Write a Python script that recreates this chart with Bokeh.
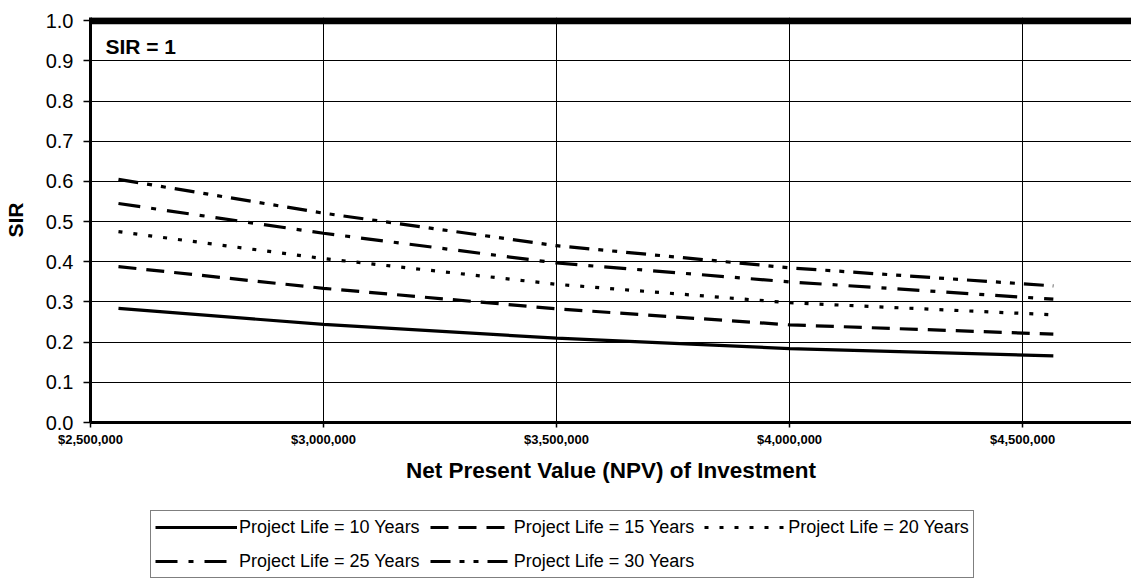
from bokeh.plotting import figure
from bokeh.layouts import column
from bokeh.models import (Range1d, FixedTicker, NumeralTickFormatter, Span, Label,
                          Legend, LegendItem)
from bokeh.embed import file_html
from bokeh.resources import INLINE

# ---- data ----
npv = [2560000, 3000000, 3500000, 4000000, 4566000]
sir_10 = [0.284, 0.244, 0.210, 0.184, 0.166]
sir_15 = [0.388, 0.334, 0.283, 0.243, 0.220]
sir_20 = [0.475, 0.408, 0.344, 0.298, 0.268]
sir_25 = [0.545, 0.471, 0.397, 0.350, 0.307]
sir_30 = [0.605, 0.521, 0.440, 0.385, 0.340]
series_labels = ["Project Life = 10 Years", "Project Life = 15 Years",
                 "Project Life = 20 Years", "Project Life = 25 Years",
                 "Project Life = 30 Years"]
sir_threshold = 1.0
x_ticks = [2500000, 3000000, 3500000, 4000000, 4500000]
y_ticks = [0.0, 0.1, 0.2, 0.3, 0.4, 0.5, 0.6, 0.7, 0.8, 0.9, 1.0]

FONT = "Liberation Sans"
W = 1131

p = figure(width=W, height=505, output_backend="svg", toolbar_location=None,
           x_range=Range1d(2500000, 4733700), y_range=Range1d(0, 1.008),
           min_border_left=89, min_border_right=0, min_border_top=17,
           min_border_bottom=83)
p.outline_line_color = None
p.background_fill_color = "white"

# grids
p.xgrid.ticker = FixedTicker(ticks=x_ticks)
p.ygrid.ticker = FixedTicker(ticks=y_ticks)
for g in (p.xgrid, p.ygrid):
    g.grid_line_color = "black"
    g.grid_line_width = 1
    g.grid_line_alpha = 1

# axes
p.xaxis.ticker = FixedTicker(ticks=x_ticks)
p.yaxis.ticker = FixedTicker(ticks=y_ticks)
p.xaxis.formatter = NumeralTickFormatter(format="$0,0")
p.yaxis.formatter = NumeralTickFormatter(format="0.0")
for ax in (p.xaxis, p.yaxis):
    ax.axis_line_color = "black"
    ax.axis_line_width = 3
    ax.major_tick_line_color = "black"
    ax.major_tick_line_width = 1.5
    ax.major_tick_in = 0
    ax.minor_tick_line_color = None
    ax.major_label_text_font = FONT
    ax.major_label_text_color = "black"
    ax.axis_label_text_font = FONT
    ax.axis_label_text_color = "black"
    ax.axis_label_text_font_style = "bold"

p.xaxis.major_tick_out = 5
p.xaxis.major_label_standoff = 4
p.xaxis.major_label_text_font_size = "13px"
p.xaxis.major_label_text_font_style = "bold"
p.xaxis.axis_label = "Net Present Value (NPV) of Investment"
p.xaxis.axis_label_text_font_size = "22.5px"
p.xaxis.axis_label_standoff = 8

p.yaxis.major_tick_out = 7
p.yaxis.major_label_standoff = 10
p.yaxis.major_label_text_font_size = "20px"
p.yaxis.axis_label = "SIR"
p.yaxis.axis_label_text_font_size = "21px"
p.yaxis.axis_label_standoff = 16

# SIR = 1 reference line
p.add_layout(Span(location=sir_threshold, dimension="width", line_color="black",
                  line_width=7))
p.add_layout(Label(x=2532000, y=0.936, text="SIR = 1", text_font=FONT,
                   text_font_size="21px", text_font_style="bold",
                   text_baseline="middle", text_color="black"))

styles = [
    (sir_10, None),
    (sir_15, "18 10"),
    (sir_20, "4 11"),
    (sir_25, "22 11 5 11"),
    (sir_30, "20 9 5 9 5 9"),
]
for ys, dash in styles:
    kw = dict(line_color="black", line_width=3.2, line_cap="butt")
    if dash:
        kw["line_dash"] = dash
    p.line(npv, ys, **kw)

# ---- legend strip below the chart (its frame aligns with the chart frame) ----
lg = figure(width=W, height=73, output_backend="svg", toolbar_location=None,
            x_range=Range1d(0, 1), y_range=Range1d(0, 1),
            min_border_left=89, min_border_right=0, min_border_top=0,
            min_border_bottom=0)
lg.axis.visible = False
lg.grid.visible = False
lg.outline_line_color = None
leg_renderers = []
for ys, dash in styles:
    kw = dict(line_color="black", line_width=3.2, line_cap="butt")
    if dash:
        kw["line_dash"] = dash
    # same series, outside this strip's (0..1) ranges: only the legend glyph shows
    leg_renderers.append(lg.line(npv, ys, **kw))

items = [LegendItem(label=lab, renderers=[r]) for lab, r in zip(series_labels, leg_renderers)]
legend = Legend(items=items, orientation="horizontal", ncols=3,
                location=(60, 0),
                label_text_font=FONT, label_text_font_size="18px",
                label_text_color="black",
                glyph_width=82, glyph_height=24, label_height=24,
                label_standoff=2, spacing=10, padding=4, margin=0,
                border_line_color="black", border_line_width=1.5,
                background_fill_color="white", background_fill_alpha=1)
lg.add_layout(legend, "center")

layout = column(p, lg, spacing=0)
open("out.html", "w").write(file_html(layout, INLINE))
